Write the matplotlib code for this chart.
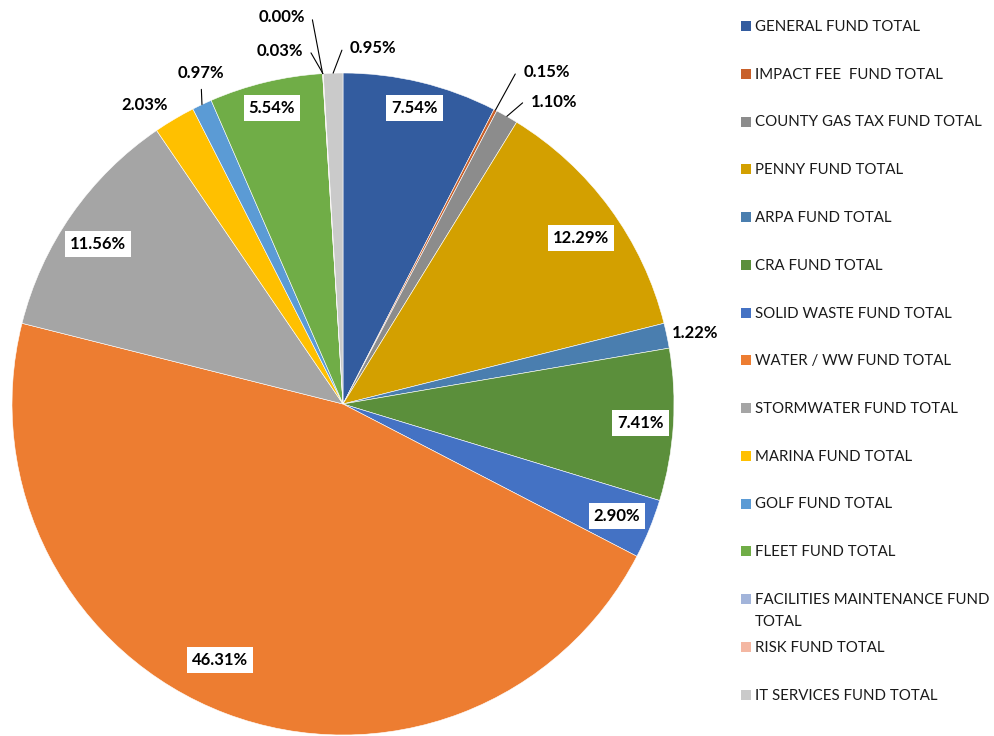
import textwrap

import numpy as np
import matplotlib
matplotlib.use('Agg')
from matplotlib import pyplot as plt
from matplotlib.patches import Rectangle

plt.rcParams['font.family'] = ['Lato', 'DejaVu Sans']

funds = [
    'GENERAL FUND TOTAL',
    'IMPACT FEE  FUND TOTAL',
    'COUNTY GAS TAX FUND TOTAL',
    'PENNY FUND TOTAL',
    'ARPA FUND TOTAL',
    'CRA FUND TOTAL',
    'SOLID WASTE FUND TOTAL',
    'WATER / WW FUND TOTAL',
    'STORMWATER FUND TOTAL',
    'MARINA FUND TOTAL',
    'GOLF FUND TOTAL',
    'FLEET FUND TOTAL',
    'FACILITIES MAINTENANCE FUND TOTAL',
    'RISK FUND TOTAL',
    'IT SERVICES FUND TOTAL',
]
shares = [7.54, 0.15, 1.10, 12.29, 1.22, 7.41, 2.90, 46.31,
          11.56, 2.03, 0.97, 5.54, 0.00, 0.03, 0.95]
colors = ['#335C9F', '#C8602A', '#8C8C8C', '#D3A000', '#4A7EAF', '#5B8F3B',
          '#4472C4', '#ED7D31', '#A5A5A5', '#FFC000', '#5B9BD5', '#70AD47',
          '#A2B4DA', '#F4B7A2', '#CACACA']

# label placement per slice: kind, radius (pie = 1), angular nudge in degrees
label_layout = [
    ('box', 0.92, 0.0),
    ('right', 1.141, 1.1),
    ('right', 1.075, 2.2),
    ('box', 0.877, 1.3),
    ('free', 1.085, 0.5),
    ('box', 0.90, 0.0),
    ('box', 0.894, 0.0),
    ('box', 0.858, 4.9),
    ('box', 0.884, -1.7),
    ('free', 1.083, -2.9),
    ('up', 1.088, 2.0),
    ('box', 0.92, 0.0),
    ('left', 1.175, -2.1),
    ('left', 1.073, -3.0),
    ('right', 1.076, 2.8),
]

W, H = 994, 736
cx, cy, R = 343, 404, 331

fig = plt.figure(figsize=(W / 100, H / 100), dpi=100)
ax = fig.add_axes([(cx - R) / W, (H - cy - R) / H, 2 * R / W, 2 * R / H])
ax.pie(shares, colors=colors, startangle=90, counterclock=False, radius=1,
       wedgeprops=dict(edgecolor='white', linewidth=0.4))
ax.set_xlim(-1, 1)
ax.set_ylim(-1, 1)
ax.axis('off')

total = sum(shares)
cum = np.cumsum([0] + shares)
lbl_font = dict(fontsize=12, fontweight='bold', color='black')

for i, (kind, r, dth) in enumerate(label_layout):
    text = f'{shares[i]:.2f}%'
    mid = 360 * (cum[i] + shares[i] / 2) / total   # clockwise from top
    a = np.radians(mid + dth)
    tx, ty = r * np.sin(a), r * np.cos(a)
    am = np.radians(mid)
    ex, ey = np.sin(am), np.cos(am)
    if kind == 'box':
        ax.text(tx, ty, text, ha='center', va='center', **lbl_font,
                bbox=dict(boxstyle='square,pad=0.3', fc='white', ec='none'))
    elif kind == 'free':
        ax.text(tx, ty, text, ha='center', va='center', **lbl_font)
    elif kind == 'up':
        ax.annotate(text, xy=(ex, ey), xytext=(tx, ty), ha='center', va='center',
                    annotation_clip=False, **lbl_font,
                    arrowprops=dict(arrowstyle='-', color='black', lw=0.8,
                                    relpos=(0.5, 0), shrinkA=4, shrinkB=0))
    else:
        right = kind == 'right'
        ax.annotate(text, xy=(ex, ey), xytext=(tx, ty),
                    ha='left' if right else 'right', va='center',
                    annotation_clip=False, **lbl_font,
                    arrowprops=dict(arrowstyle='-', color='black', lw=0.8,
                                    relpos=(0, 0.5) if right else (1, 0.5),
                                    shrinkA=4, shrinkB=0,
                                    connectionstyle='arc,angleA=%d,armA=7,angleB=0,armB=0,rad=0'
                                    % (180 if right else 0)))

# legend on the right, one row per fund
row0, step = 26, 47.75
for i, (name, col) in enumerate(zip(funds, colors)):
    y = row0 + i * step
    fig.add_artist(Rectangle((741 / W, 1 - (y + 5) / H), 10 / W, 10 / H,
                             transform=fig.transFigure, fc=col, ec='none'))
    lines = textwrap.wrap(name, 27) if len(name) > 27 else [name]
    for k, line in enumerate(lines):
        fig.text(755 / W, 1 - (y + 1 + k * 22) / H, line, ha='left', va='center',
                 fontsize=10.8, color='#1a1a1a')

fig.savefig('out.png', dpi=100, facecolor='white')
